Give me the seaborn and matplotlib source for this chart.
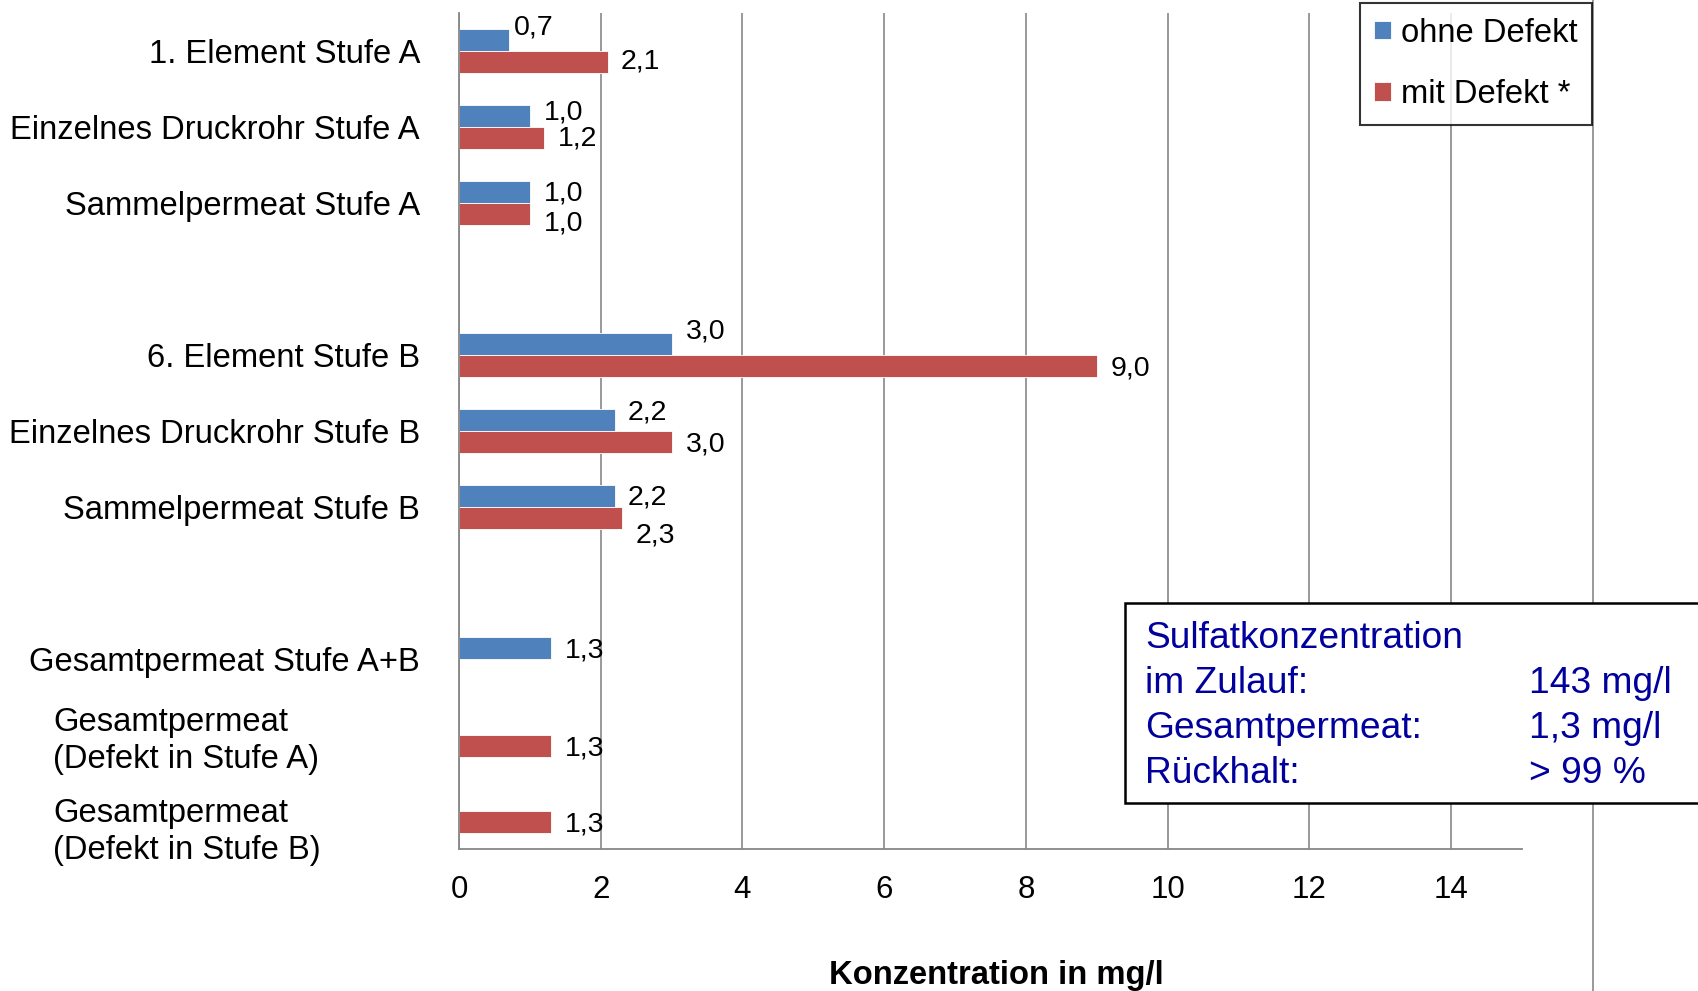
import numpy as np
import pandas as pd
import matplotlib
matplotlib.use("Agg")
import matplotlib.pyplot as plt
import seaborn as sns
from matplotlib.patches import Rectangle
from matplotlib.ticker import FixedLocator

# -------------------- Daten --------------------
kategorien = [
    "1. Element Stufe A",
    "Einzelnes Druckrohr Stufe A",
    "Sammelpermeat Stufe A",
    "6. Element Stufe B",
    "Einzelnes Druckrohr Stufe B",
    "Sammelpermeat Stufe B",
    "Gesamtpermeat Stufe A+B",
    "Gesamtpermeat\n(Defekt in Stufe A)",
    "Gesamtpermeat\n(Defekt in Stufe B)",
]
ohne_defekt = [0.7, 1.0, 1.0, 3.0, 2.2, 2.2, 1.3, np.nan, np.nan]
mit_defekt = [2.1, 1.2, 1.0, 9.0, 3.0, 2.3, np.nan, 1.3, 1.3]
serien = ["ohne Defekt", "mit Defekt *"]

# Reihenfolge mit Leerzeilen zwischen den Gruppen
reihenfolge = kategorien[:3] + [" "] + kategorien[3:6] + ["  "] + kategorien[6:]

x_ticks = list(range(0, 15, 2))

info_links = ["Sulfatkonzentration", "im Zulauf:", "Gesamtpermeat:", "Rückhalt:"]
info_rechts = ["", "143 mg/l", "1,3 mg/l", "> 99 %"]

# Verschiebung der Datenbeschriftungen (Punkte), wie im Excel-Original
label_dy = {
    serien[0]: [9.4, 2.3, -0.8, 9.4, 5.5, -0.8, -1.6],
    serien[1]: [0, -0.8, -7, -1.6, -1.6, -12.5, -1.6, -1.6],
}
label_dx = {
    serien[0]: [4, 10, 10, 10, 9, 9, 10],
    serien[1]: [9, 10, 10, 10, 10, 10, 10, 10],
}

# -------------------- Stil --------------------
sns.set_style("white")
plt.rcParams["font.family"] = ["Liberation Sans", "DejaVu Sans"]
plt.rcParams["text.color"] = "black"
plt.rcParams["xtick.labelcolor"] = "black"
plt.rcParams["ytick.labelcolor"] = "black"
plt.rcParams["axes.labelcolor"] = "black"

blau = "#4F81BD"
rot = "#C0504D"
grau = "#878787"

df = pd.DataFrame({
    "Kategorie": kategorien * 2,
    "Wert": ohne_defekt + mit_defekt,
    "Serie": [serien[0]] * len(kategorien) + [serien[1]] * len(kategorien),
}).dropna()

fig = plt.figure(figsize=(16.98, 9.91), dpi=100)
ax = fig.add_axes([0.2703, 0.1433, 0.6260, 0.8436])

sns.barplot(
    data=df, y="Kategorie", x="Wert", hue="Serie",
    order=reihenfolge, hue_order=serien, palette=[blau, rot],
    saturation=1, width=0.5714, errorbar=None, orient="h", ax=ax,
    edgecolor="white", linewidth=0.6,
)

for serie, c in zip(serien, ax.containers):
    anns = ax.bar_label(c, fmt=lambda v: f"{v:.1f}".replace(".", ","),
                        padding=10, fontsize=20.5)
    for a, dx, dy in zip(anns, label_dx[serie], label_dy[serie]):
        a.xyann = (dx, dy)

ax.set_xlim(0, 15)
ax.set_ylim(10.5, -0.5)
ax.set_xticks(x_ticks)
ax.set_axisbelow(True)
ax.grid(axis="x", color=grau, linewidth=1.2)
ax.axvline(16, ymin=-0.2, ymax=1.03, clip_on=False, color=grau, lw=1.2)

for s in ["top", "right"]:
    ax.spines[s].set_visible(False)
for s in ["left", "bottom"]:
    ax.spines[s].set_color(grau)
    ax.spines[s].set_linewidth(1.3)

# Kategorien-Beschriftung
ax.set_ylabel("")
beschriftung = [t if "\n" not in t else "" for t in reihenfolge]
ax.set_yticks(range(len(reihenfolge)))
ax.set_yticklabels(beschriftung, fontsize=23.6)
ax.tick_params(axis="y", which="major", length=0, pad=28)
ax.yaxis.set_minor_locator(FixedLocator(np.arange(-0.5, len(reihenfolge), 1)))
ax.tick_params(axis="y", which="minor", length=6.5, width=1.3, color=grau)

for i, t in enumerate(reihenfolge):
    if "\n" in t:
        ax.text(-0.382, i + (0.08 if "Stufe A)" in t else 0.27), t,
                transform=ax.get_yaxis_transform(), ha="left", va="center",
                fontsize=23.6, linespacing=1.25)

ax.tick_params(axis="x", length=6.5, width=1.3, color=grau, pad=12, labelsize=22.5)
ax.set_xlabel("Konzentration in mg/l", fontsize=23.6, fontweight="bold")
ax.xaxis.set_label_coords(0.506, -0.151)
ax.xaxis.label.set_va("center")

leg = ax.legend(title=None, loc="upper right", bbox_to_anchor=(1.066, 1.012),
                frameon=True, fancybox=False, edgecolor="black", fontsize=23.6,
                handlelength=0.5, handleheight=0.5, handletextpad=0.3,
                labelspacing=0.93, borderpad=0.45, borderaxespad=0)
leg.get_frame().set_linewidth(1.5)

# Infobox
fig.add_artist(Rectangle((1125 / 1698, 1 - 803 / 991), 0.4, 200 / 991,
                         transform=fig.transFigure, facecolor="white",
                         edgecolor="black", lw=1.8, zorder=10))
for j, (l, r) in enumerate(zip(info_links, info_rechts)):
    y = 1 - (639 + j * 44.8) / 991
    fig.text(1145 / 1698, y, l, color="#00009C", fontsize=26.7, va="center", zorder=11)
    fig.text(1529 / 1698, y, r, color="#00009C", fontsize=26.7, va="center", zorder=11)

fig.savefig("out.png", dpi=100)
